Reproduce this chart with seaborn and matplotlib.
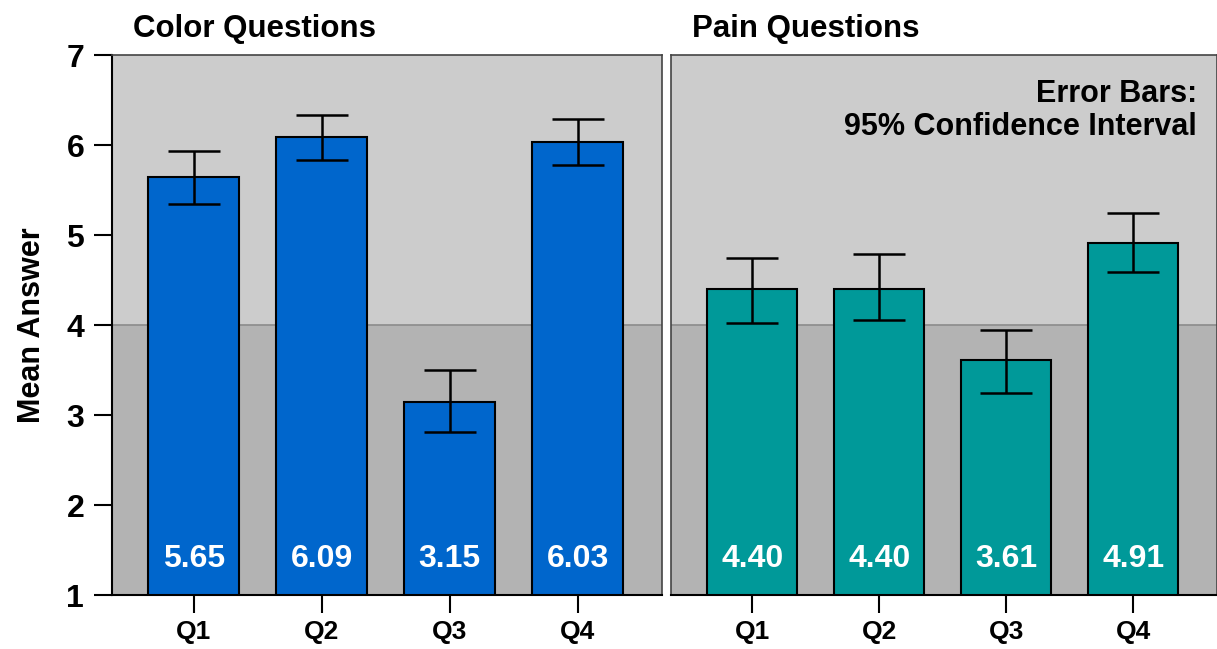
import seaborn as sns
import matplotlib.pyplot as plt

questions = ['Q1', 'Q2', 'Q3', 'Q4']
color_means = [5.65, 6.09, 3.15, 6.03]
color_low = [5.35, 5.83, 2.81, 5.78]
color_high = [5.93, 6.33, 3.50, 6.29]
pain_means = [4.40, 4.40, 3.61, 4.91]
pain_low = [4.02, 4.06, 3.25, 4.59]
pain_high = [4.75, 4.79, 3.95, 5.25]
yticks = [1, 2, 3, 4, 5, 6, 7]

sns.set_style('white')
plt.rcParams['font.family'] = ['Liberation Sans', 'DejaVu Sans']
plt.rcParams['font.weight'] = 'bold'
plt.rcParams['text.color'] = 'black'
plt.rcParams['axes.labelcolor'] = 'black'
plt.rcParams['xtick.color'] = 'black'
plt.rcParams['ytick.color'] = 'black'

fig = plt.figure(figsize=(12.17, 6.49), dpi=100)
ax1 = fig.add_axes([0.092, 0.0832, 0.452, 0.8318])
ax2 = fig.add_axes([0.5515, 0.0832, 0.4485, 0.8318])

panels = [
    (ax1, 'Color Questions', color_means, color_low, color_high, '#0066CC'),
    (ax2, 'Pain Questions', pain_means, pain_low, pain_high, '#009999'),
]

for ax, title, means, low, high, col in panels:
    ax.axhspan(4, 7, color='#CCCCCC', zorder=0)
    ax.axhspan(1, 4, color='#B3B3B3', zorder=0)
    ax.axhline(4, color='#8C8C8C', lw=1.2, zorder=0.5)
    sns.barplot(x=questions, y=means, ax=ax, color=col, saturation=1,
                width=0.71, edgecolor='black', linewidth=1.5, zorder=2)
    err = [[m - l for m, l in zip(means, low)], [h - m for m, h in zip(means, high)]]
    ax.errorbar(range(len(questions)), means, yerr=err, fmt='none',
                ecolor='black', elinewidth=1.8, capsize=19, capthick=1.8, zorder=3)
    for i, m in enumerate(means):
        ax.text(i, 1.4, f'{m:.2f}', color='white', ha='center', va='center',
                fontsize=23, fontweight='bold', zorder=4)
    ax.set_xlim(-0.64, 3.66)
    ax.set_ylim(1, 7)
    ax.set_xlabel('')
    ax.text(0.038, 1.02, title, transform=ax.transAxes, ha='left', va='bottom',
            fontsize=22.5, fontweight='bold')
    ax.tick_params(axis='x', length=13, width=1.5, labelsize=19,
                   pad=5, direction='out', bottom=True)
    for lbl in ax.get_xticklabels():
        lbl.set_fontweight('bold')
    ax.spines['bottom'].set_color('black')
    ax.spines['bottom'].set_linewidth(1.5)
    for s in ['top', 'right', 'left']:
        ax.spines[s].set_color('#444444')
        ax.spines[s].set_linewidth(1.2)

ax1.spines['left'].set_color('black')
ax1.spines['left'].set_linewidth(1.5)
ax1.set_yticks(yticks)
ax1.set_yticklabels([str(t) for t in yticks], fontsize=23, fontweight='bold')
ax1.tick_params(axis='y', length=13, width=1.5, pad=7, left=True)
ax1.set_ylabel('Mean Answer', fontsize=22, fontweight='bold', labelpad=14)

ax2.set_yticks([])
ax2.set_ylabel('')
ax2.text(0.963, 0.955, 'Error Bars:\n95% Confidence Interval', transform=ax2.transAxes,
         ha='right', va='top', multialignment='right', fontsize=22,
         fontweight='bold', linespacing=1.1)

fig.savefig('out.png', dpi=100)
